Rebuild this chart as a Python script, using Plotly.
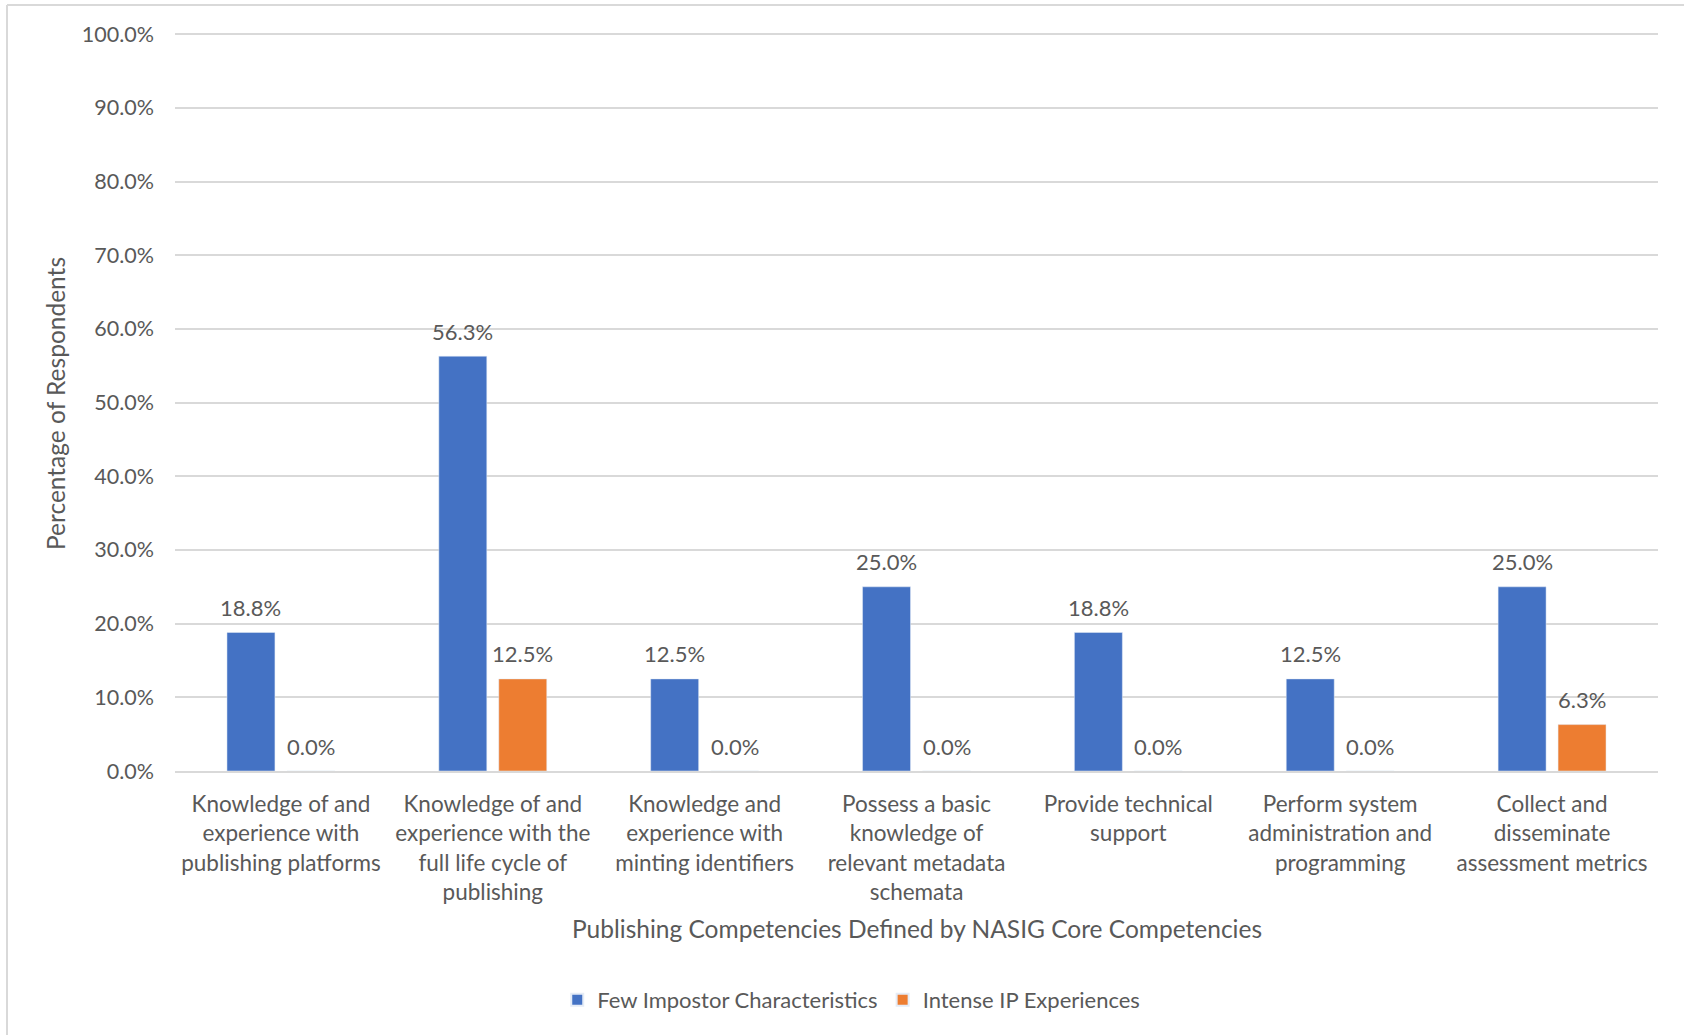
import plotly.graph_objects as go

# Competency categories (line breaks as shown on the axis)
categories = [
    "Knowledge of and<br>experience with<br>publishing platforms",
    "Knowledge of and<br>experience with the<br>full life cycle of<br>publishing",
    "Knowledge and<br>experience with<br>minting identifiers",
    "Possess a basic<br>knowledge of<br>relevant metadata<br>schemata",
    "Provide technical<br>support",
    "Perform system<br>administration and<br>programming",
    "Collect and<br>disseminate<br>assessment metrics",
]
few_impostor = [18.8, 56.3, 12.5, 25.0, 18.8, 12.5, 25.0]
intense_ip = [0.0, 12.5, 0.0, 0.0, 0.0, 0.0, 6.3]

series_names = ["Few Impostor Characteristics", "Intense IP Experiences"]
y_ticks = [0, 10, 20, 30, 40, 50, 60, 70, 80, 90, 100]

BLUE = "#4472C4"
ORANGE = "#ED7D31"
TEXT = "#595959"
GRID = "#D9D9D9"
FONT = "Lato"

W, H = 1684, 1035
L, R, T, B = 175, 26, 32, 264
PW, PH = W - L - R, H - T - B


def px_x(p):
    return (p - L) / PW


def px_y(p):
    return (H - B - p) / PH


fig = go.Figure()
fig.add_trace(go.Bar(x=categories, y=few_impostor, name=series_names[0],
                     marker_color=BLUE))
fig.add_trace(go.Bar(x=categories, y=intense_ip, name=series_names[1],
                     marker_color=ORANGE))

# value labels above each bar
annotations = []
for vals, shift in ((few_impostor, -30), (intense_ip, 30)):
    for c, v in zip(categories, vals):
        annotations.append(dict(
            x=c, y=v, xref="x", yref="y", text=f"{v:.1f}%", showarrow=False,
            xshift=shift, yshift=25, yanchor="middle",
            font=dict(family=FONT, size=22, color=TEXT)))

# axis titles
annotations.append(dict(
    x=0.5, y=px_y(928), xref="paper", yref="paper", showarrow=False,
    text="Publishing Competencies Defined by NASIG Core Competencies",
    yanchor="middle", font=dict(family=FONT, size=24.5, color=TEXT)))
annotations.append(dict(
    x=px_x(55), y=px_y(403), xref="paper", yref="paper", showarrow=False,
    text="Percentage of Respondents", textangle=-90, xanchor="center",
    yanchor="middle", font=dict(family=FONT, size=24.5, color=TEXT)))

# chart frame edge
shapes = [
    dict(type="line", xref="paper", yref="paper", x0=px_x(7), x1=px_x(7),
         y0=px_y(5), y1=px_y(1040), line=dict(color=GRID, width=2)),
    dict(type="line", xref="paper", yref="paper", x0=px_x(7), x1=px_x(1690),
         y0=px_y(5), y1=px_y(5), line=dict(color=GRID, width=2)),
]

fig.update_layout(
    width=W, height=H,
    margin=dict(l=L, r=R, t=T, b=B, autoexpand=False),
    paper_bgcolor="white", plot_bgcolor="white",
    barmode="group", bargap=0.434, bargroupgap=0.2,
    font=dict(family=FONT, size=22, color=TEXT),
    showlegend=True,
    legend=dict(orientation="h", x=0.456, xanchor="center", y=px_y(1000),
                yanchor="middle", font=dict(family=FONT, size=22, color=TEXT),
                itemsizing="constant", traceorder="normal"),
    annotations=annotations,
    shapes=shapes,
)
fig.update_xaxes(showgrid=False, showline=True, linecolor=GRID, linewidth=2,
                 ticks="", tickangle=0, ticklabelstandoff=12,
                 tickfont=dict(family=FONT, size=22.5, color=TEXT),
                 automargin=False)
fig.update_yaxes(range=[0, 100.3], tickvals=y_ticks,
                 ticktext=[f"{v:.1f}%" for v in y_ticks],
                 showgrid=True, gridcolor=GRID, gridwidth=2, zeroline=False,
                 showline=False, ticks="", ticklabelstandoff=20,
                 tickfont=dict(family=FONT, size=21.5, color=TEXT),
                 automargin=False)

fig.write_html("out.html")
